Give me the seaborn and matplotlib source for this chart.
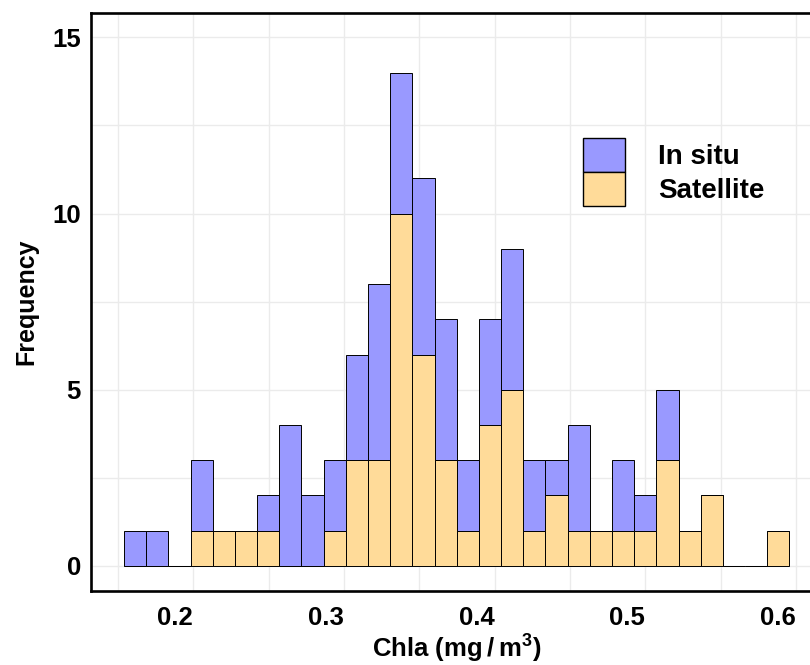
import numpy as np
import pandas as pd
import matplotlib
matplotlib.use("Agg")
import matplotlib.pyplot as plt
from matplotlib.patches import Patch
from matplotlib.ticker import MultipleLocator
import seaborn as sns

# ---- data ----
bin_start = 0.15407
bin_width = 0.014717
n_bins = 30
insitu = [1, 1, 0, 2, 0, 0, 1, 4, 2, 2, 3, 5, 4, 5, 4, 2, 3, 4, 2, 1, 3, 0, 2, 1, 2, 0, 0, 0, 0, 0]
satellite = [0, 0, 0, 1, 1, 1, 1, 0, 0, 1, 3, 3, 10, 6, 3, 1, 4, 5, 1, 2, 1, 1, 1, 1, 3, 1, 2, 0, 0, 1]
series = ["In situ", "Satellite"]
colors = {"In situ": "#9999FF", "Satellite": "#FFDB99"}
xticks = [0.2, 0.3, 0.4, 0.5, 0.6]
yticks = [0, 5, 10, 15]

edges = [bin_start + bin_width * i for i in range(n_bins + 1)]
centers = [e + bin_width / 2 for e in edges[:-1]]
df = pd.DataFrame({
    "Chla": centers + centers,
    "count": insitu + satellite,
    "Source": [series[0]] * n_bins + [series[1]] * n_bins,
})

sns.set_style("white")
plt.rcParams["font.family"] = ["Liberation Sans", "DejaVu Sans"]
plt.rcParams["font.weight"] = "bold"
plt.rcParams["text.color"] = "black"
plt.rcParams["mathtext.fontset"] = "custom"
plt.rcParams["mathtext.rm"] = "Liberation Sans:bold"
plt.rcParams["mathtext.bf"] = "Liberation Sans:bold"
plt.rcParams["mathtext.sf"] = "Liberation Sans"
plt.rcParams["mathtext.default"] = "rm"

W, H = 810, 665
fig = plt.figure(figsize=(W / 100, H / 100), dpi=100)
ax = fig.add_axes([90.7 / W, 1 - 591 / H, (822.6 - 90.7) / W, (591 - 12.7) / H])

sns.histplot(data=df, x="Chla", weights="count", hue="Source", hue_order=series,
             bins=edges, multiple="stack", palette=colors, alpha=1,
             edgecolor="black", linewidth=0.7, legend=False, ax=ax)

ax.set_xlim(0.1320, 0.6176)
ax.set_ylim(-0.71, 15.70)
ax.set_xticks(xticks)
ax.set_yticks(yticks)
ax.set_xticklabels([f"{v:.1f}" for v in xticks], ha="right")
ax.set_yticklabels([str(v) for v in yticks])
ax.xaxis.set_minor_locator(MultipleLocator(0.05))
ax.yaxis.set_minor_locator(MultipleLocator(2.5))
ax.grid(True, which="both", color="#EBEBEB", linewidth=1.0)
ax.set_axisbelow(True)
for s in ax.spines.values():
    s.set_visible(True)
    s.set_color("black")
    s.set_linewidth(1.9)
ax.tick_params(axis="both", which="major", length=4, width=1, color="#333333",
               labelsize=18.5, labelcolor="black")
ax.tick_params(axis="x", which="major", pad=7)
ax.tick_params(axis="y", which="major", pad=3)
ax.tick_params(axis="both", which="minor", length=0)
for lab in ax.get_xticklabels() + ax.get_yticklabels():
    lab.set_fontweight("bold")

ax.set_xlabel(r"Chla (mg$\,\mathsf{/}\,$m$^{\mathsf{3}}$)", fontsize=18.5,
              fontweight="bold", color="black")
ax.set_ylabel("Frequency", fontsize=18, fontweight="bold", labelpad=10, color="black")
ax.xaxis.set_label_coords(0.5, -0.072)
ax.xaxis.label.set_va("top")

handles = [Patch(facecolor=colors[s], edgecolor="black", linewidth=1.0, label=s) for s in series]
ax.legend(handles=handles, loc="upper left", bbox_to_anchor=(583 / W, 1 - 138 / H),
          bbox_transform=fig.transFigure, frameon=False, borderpad=0, borderaxespad=0,
          handlelength=1.5, handleheight=1.51, labelspacing=0, handletextpad=1.2,
          labelcolor="black", prop={"size": 20, "weight": "bold"})

fig.savefig("out.png", dpi=100)
